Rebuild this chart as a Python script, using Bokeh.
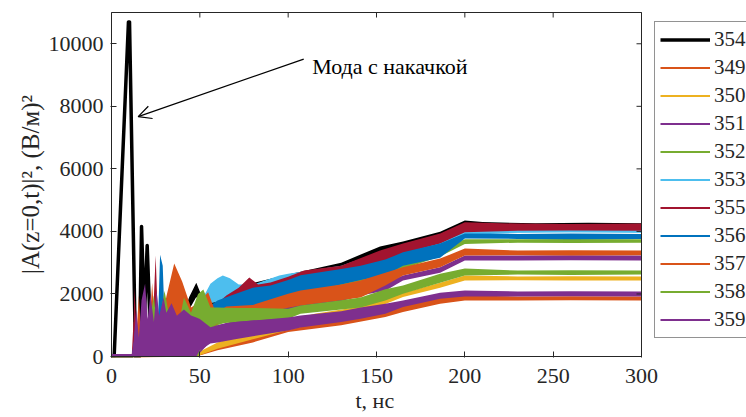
import math
from bokeh.plotting import figure
from bokeh.models import (Legend, LegendItem, Arrow, OpenHead, Label, Title,
                          FixedTicker, Range1d)
from bokeh.embed import file_html
from bokeh.resources import INLINE

# ---------------- data ----------------
x_ticks = [0, 50, 100, 150, 200, 250, 300]
y_ticks = [0, 2000, 4000, 6000, 8000, 10000]
x_lim = (0, 300)
y_lim = (0, 11000)

# pumped mode 354: early spikes (line) and later noisy band (lo/hi envelope)
t354_line = [0, 1.5, 9.6, 10.2, 13.6, 15.8, 17.0, 18.6, 20.2, 22.5]
v354_line = [0, 0, 10700, 10700, 0, 0, 4160, 1200, 3550, 0]
t354 = [40, 44, 48, 52, 60, 80, 100, 130, 152, 165, 186, 200, 210, 240, 270, 300]
lo354 = [1000, 1500, 1900, 1500, 1600, 2000, 2300, 2700, 3150, 3400, 3700, 4100, 4100, 4100, 4100, 4100]
hi354 = [1300, 1900, 2360, 1800, 1900, 2350, 2620, 3000, 3520, 3680, 3990, 4350, 4300, 4260, 4280, 4260]

t349 = [0, 12, 13.5, 15, 48, 60, 80, 100, 130, 155, 165, 186, 200, 230, 260, 300]
lo349 = [0, 0, 0, 0, 0, 200, 450, 780, 1000, 1260, 1420, 1690, 1790, 1790, 1800, 1790]
hi349 = [0, 0, 700, 0, 60, 400, 700, 950, 1200, 1420, 1630, 1880, 1950, 1920, 1930, 1920]

t350 = [0, 12, 48, 60, 80, 100, 115, 141, 155, 165, 186, 200, 230, 260, 300]
lo350 = [0, 0, 0, 250, 550, 850, 1050, 1400, 1680, 1900, 2200, 2430, 2440, 2430, 2430]
hi350 = [0, 0, 100, 450, 800, 1150, 1370, 1600, 1840, 2030, 2360, 2590, 2560, 2570, 2560]

t351 = [0, 12, 48, 60, 80, 100, 120, 141, 155, 165, 186, 200, 230, 260, 300]
lo351 = [0, 0, 0, 700, 1000, 1350, 1600, 1950, 2100, 2430, 2680, 3070, 3070, 3080, 3070]
hi351 = [0, 0, 300, 1000, 1300, 1650, 1900, 2110, 2350, 2590, 2850, 3230, 3230, 3240, 3230]

t352 = [0, 12, 48, 60, 80, 100, 120, 141, 155, 165, 186, 200, 230, 260, 300]
lo352 = [0, 0, 0, 1000, 1400, 1700, 2000, 2300, 2600, 2800, 3200, 3600, 3640, 3630, 3640]
hi352 = [0, 0, 300, 1300, 1700, 2000, 2300, 2550, 2750, 2950, 3450, 3750, 3750, 3760, 3750]

t353 = [0, 12, 13.5, 15, 48, 52, 56, 60, 63, 67, 72, 80, 95, 100, 130, 155, 186, 200, 230, 260, 300]
lo353 = [0, 0, 0, 0, 1300, 1500, 1700, 1750, 1750, 1750, 1750, 1900, 2200, 2250, 2600, 3000, 3550, 3880, 3960, 3970, 3960]
hi353 = [0, 0, 900, 0, 1600, 1900, 2330, 2500, 2590, 2500, 2300, 2300, 2590, 2650, 2900, 3400, 3900, 4050, 4040, 4050, 4040]

t355 = [0, 12, 13, 14.5, 23, 25, 26.5, 30, 60, 65, 72, 78, 83, 90, 100, 109, 130, 152, 165, 186, 200, 230, 260, 300]
lo355 = [0, 0, 0, 0, 0, 0, 0, 0, 1500, 1700, 1750, 1900, 1950, 2000, 2250, 2400, 2600, 2950, 3290, 3610, 3970, 4025, 4030, 4025]
hi355 = [0, 0, 2200, 300, 600, 3230, 800, 300, 1700, 1950, 2200, 2530, 2300, 2370, 2550, 2750, 2900, 3390, 3610, 3930, 4290, 4250, 4240, 4250]

t356 = [0, 12, 13.5, 15, 26, 27.5, 29, 30.5, 55, 60, 70, 80, 90, 100, 107, 130, 141, 155, 165, 186, 200, 230, 260, 300]
lo356 = [0, 0, 0, 0, 0, 0, 0, 0, 1300, 1470, 1550, 1550, 1600, 1950, 2000, 2300, 2450, 2600, 2900, 3160, 3770, 3760, 3750, 3760]
hi356 = [0, 0, 1000, 100, 500, 3250, 2900, 500, 1600, 1790, 2000, 2200, 2270, 2450, 2600, 2800, 2900, 3100, 3330, 3610, 3930, 3920, 3930, 3920]

t357 = [0, 12, 14, 15.5, 17, 21, 23, 25, 30, 31, 35.5, 40, 45, 49, 54.7, 59, 65, 80, 100, 107, 130, 141, 155, 165, 186, 200, 230, 260, 300]
lo357 = [0, 0, 0, 0, 0, 0, 0, 0, 0, 0, 800, 800, 700, 800, 900, 1000, 1250, 1300, 1560, 1630, 1800, 1890, 2270, 2590, 2850, 3230, 3240, 3230, 3240]
hi357 = [0, 0, 600, 1950, 500, 400, 2360, 600, 1500, 1900, 2970, 2400, 1570, 1700, 2055, 1400, 1600, 1650, 2010, 2110, 2300, 2430, 2680, 2850, 3130, 3450, 3390, 3400, 3390]

t358 = [0, 12, 14, 16, 18, 20, 24, 26, 30, 33, 35, 38, 41, 45, 49, 52, 56, 60, 70, 80, 100, 107, 130, 141, 155, 165, 186, 200, 230, 260, 300]
lo358 = [0, 0, 0, 0, 0, 0, 0, 0, 0, 0, 0, 0, 0, 0, 0, 600, 900, 1050, 1100, 1150, 1210, 1370, 1500, 1570, 1790, 2010, 2360, 2590, 2620, 2610, 2620]
hi358 = [0, 0, 800, 200, 1950, 500, 1950, 700, 2100, 1200, 1500, 1000, 1890, 1400, 2000, 2140, 1570, 1570, 1550, 1550, 1530, 1630, 1800, 1890, 2150, 2270, 2650, 2810, 2750, 2760, 2750]

t359 = [0, 12, 14, 15.5, 17, 19, 20.5, 22, 24, 25.5, 27, 29.5, 31, 34, 37, 41, 45, 48, 50, 56, 60, 70, 80, 100, 107, 130, 141, 155, 165, 186, 200, 230, 260, 300]
lo359 = [0, 0, 0, 0, 0, 0, 0, 0, 0, 0, 0, 0, 0, 0, 0, 0, 0, 0, 200, 415, 450, 550, 650, 830, 930, 1100, 1210, 1370, 1580, 1850, 1920, 1920, 1930, 1920]
hi359 = [80, 80, 1500, 600, 1800, 2330, 1200, 1980, 1100, 2110, 1300, 1890, 1400, 1700, 1300, 1500, 1310, 1250, 1200, 935, 1000, 1100, 1150, 1250, 1310, 1450, 1565, 1690, 1790, 2040, 2110, 2080, 2090, 2080]

legend_labels = ["354", "349", "350", "351", "352", "353", "355", "356", "357", "358", "359"]

x_title = "t, нс"
y_title = "|A(z=0,t)|², (В/м)²"

# annotation anchor points (data units)
note_text = "Мода с накачкой"
note_xy = (113.6, 9275)
arrow_tail = (108.8, 9510)
arrow_tip = (15.1, 7670)

# ---------------- styles / layout ----------------
BLUE, ORANGE, YELLOW, PURPLE = "#0072BD", "#D95319", "#EDB120", "#7E2F8E"
GREEN, LBLUE, DRED = "#77AC30", "#4DBEEE", "#A2142F"
TXT = "#262626"
FONT = "Liberation Serif"

W, H = 746, 417
BOX_L, BOX_R, BOX_T, BOX_B = 111, 641, 12, 356      # axes box in pixels
FR_L, FR_T, FR_B = BOX_L - 1, BOX_T - 1, BOX_B + 1  # drawing frame (1px larger)
fr_w, fr_h = W - FR_L, FR_B - FR_T
px_x = (x_lim[1] - x_lim[0]) / (BOX_R - BOX_L)
px_y = (y_lim[1] - y_lim[0]) / (BOX_B - BOX_T)
xr = Range1d(x_lim[0] - px_x, x_lim[0] - px_x + fr_w * px_x)
yr = Range1d(y_lim[0] - px_y, y_lim[0] - px_y + fr_h * px_y)

p = figure(width=W, height=H, output_backend="svg", toolbar_location=None,
           x_range=xr, y_range=yr,
           min_border_left=FR_L, min_border_right=0, min_border_top=FR_T,
           min_border_bottom=H - FR_B)
p.grid.visible = False
p.outline_line_color = None
p.background_fill_color = "white"
p.border_fill_color = "white"

# pumped mode first (underneath)
r354 = p.line(t354_line, v354_line, line_color="black", line_width=3.5,
              line_join="round")
p.varea(x=t354, y1=lo354, y2=hi354, fill_color="black")
legend_renderers = [r354]

series = [
    (t349, lo349, hi349, ORANGE),
    (t350, lo350, hi350, YELLOW),
    (t351, lo351, hi351, PURPLE),
    (t352, lo352, hi352, GREEN),
    (t353, lo353, hi353, LBLUE),
    (t355, lo355, hi355, DRED),
    (t356, lo356, hi356, BLUE),
    (t357, lo357, hi357, ORANGE),
    (t358, lo358, hi358, GREEN),
    (t359, lo359, hi359, PURPLE),
]
for t, lo, hi, c in series:
    mid = [(a + b) / 2 for a, b in zip(lo, hi)]
    # centre line hidden under its own band; used as the legend glyph
    legend_renderers.append(p.line(x=t, y=mid, line_color=c, line_width=2))
    p.varea(x=t, y1=lo, y2=hi, fill_color=c)

# axes box
p.quad(left=x_lim[0], right=x_lim[1], bottom=y_lim[0], top=y_lim[1],
       fill_color=None, line_color=TXT, line_width=1)
# inward tick marks on the top and right edges of the box
p.ray(x=x_ticks, y=[y_lim[1]] * len(x_ticks), length=5, length_units="screen",
      angle=-math.pi / 2, line_color=TXT, line_width=1)
p.ray(x=[x_lim[1]] * len(y_ticks), y=y_ticks, length=5, length_units="screen",
      angle=math.pi, line_color=TXT, line_width=1)

# axes
for ax in (p.xaxis[0], p.yaxis[0]):
    ax.major_tick_in = 6
    ax.major_tick_out = 0
    ax.minor_tick_line_color = None
    ax.axis_line_color = None
    ax.major_tick_line_color = TXT
    ax.major_label_text_font = FONT
    ax.major_label_text_font_size = "22px"
    ax.major_label_text_color = TXT
    ax.axis_label_text_font = FONT
    ax.axis_label_text_font_style = "normal"
    ax.axis_label_text_color = TXT

p.xaxis[0].ticker = FixedTicker(ticks=x_ticks)
p.yaxis[0].ticker = FixedTicker(ticks=y_ticks)
p.yaxis[0].axis_label = y_title
p.yaxis[0].axis_label_text_font_size = "25px"
p.xaxis[0].major_label_standoff = 11
p.yaxis[0].major_label_standoff = 7
p.yaxis[0].axis_label_standoff = 2

# x-axis title centred under the axes box (not under the wider frame)
x_title_w = 42
p.add_layout(Title(text=x_title, align="left",
                   offset=(BOX_L + BOX_R) / 2 - FR_L - x_title_w / 2,
                   text_font=FONT, text_font_size="22px",
                   text_font_style="normal", text_color=TXT, standoff=0),
             "below")

# annotation
p.add_layout(Arrow(end=OpenHead(size=13, line_width=1.2, line_color="black"),
                   x_start=arrow_tail[0], y_start=arrow_tail[1],
                   x_end=arrow_tip[0], y_end=arrow_tip[1],
                   line_width=1.2, line_color="black"))
p.add_layout(Label(x=note_xy[0], y=note_xy[1], text=note_text,
                   text_font=FONT, text_font_size="22px", text_color="black",
                   text_baseline="alphabetic"))

# legend: its right border runs off the edge of the picture, as in the original
legend = Legend(items=[LegendItem(label=l, renderers=[r])
                       for l, r in zip(legend_labels, legend_renderers)],
                location=(654 - FR_L, FR_B - 338), orientation="vertical",
                glyph_width=50, glyph_height=25, label_height=25,
                label_standoff=4, spacing=3, padding=5, margin=0,
                label_text_font=FONT, label_text_font_size="21px",
                label_text_color=TXT, border_line_color=TXT,
                border_line_width=1, background_fill_alpha=1)
p.add_layout(legend)

open("out.html", "w").write(file_html(p, INLINE))
